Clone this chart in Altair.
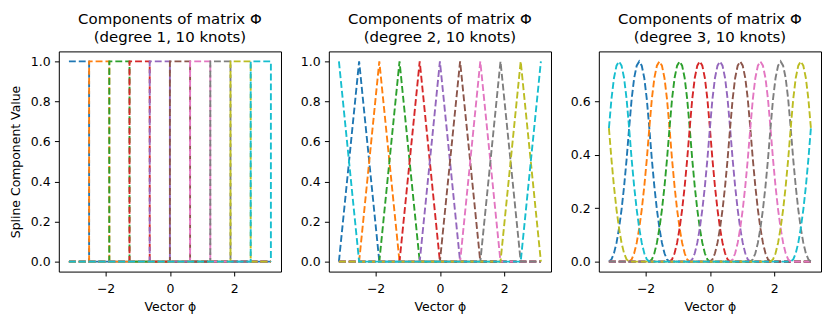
import altair as alt
import pandas as pd

# ---- data ----
KNOTS = [-3.1416, -2.5133, -1.8850, -1.2566, -0.6283, 0.0,
         0.6283, 1.2566, 1.8850, 2.5133, 3.1416]
COMPONENTS = ["0", "1", "2", "3", "4", "5", "6", "7", "8", "9"]
COLORS = ["#1f77b4", "#ff7f0e", "#2ca02c", "#d62728", "#9467bd",
          "#8c564b", "#e377c2", "#7f7f7f", "#bcbd22", "#17becf"]
# shape of one degree-3 component over its three knot intervals (1/8 steps)
SUB_T = [0.0, 0.125, 0.25, 0.375, 0.5, 0.625, 0.75, 0.875]
QUAD_PROFILE = [0.0, 0.008, 0.031, 0.070, 0.125, 0.195, 0.281, 0.383, 0.5,
                0.609, 0.688, 0.734, 0.75, 0.734, 0.688, 0.609, 0.5,
                0.383, 0.281, 0.195, 0.125, 0.070, 0.031, 0.008, 0.0]
TITLES = [["Components of matrix Φ", "(degree 1, 10 knots)"],
          ["Components of matrix Φ", "(degree 2, 10 knots)"],
          ["Components of matrix Φ", "(degree 3, 10 knots)"]]
X_TICKS = [-2, 0, 2]
Y_TICKS_12 = [0.0, 0.2, 0.4, 0.6, 0.8, 1.0]
Y_TICKS_3 = [0.0, 0.2, 0.4, 0.6]

n = len(COMPONENTS)
K0, KN = KNOTS[0], KNOTS[-1]

# degree 1: steps
rows1 = []
for i, c in enumerate(COMPONENTS):
    a, b = KNOTS[i], KNOTS[i + 1]
    if i == 0:
        pts = [(K0, 1), (b, 1), (b, 0), (KN, 0)]
    elif i == n - 1:
        pts = [(K0, 0), (a, 0), (a, 1), (KN, 1), (KN, 0)]
    else:
        pts = [(K0, 0), (a, 0), (a, 1), (b, 1), (b, 0), (KN, 0)]
    for j, (x, y) in enumerate(pts):
        rows1.append({"comp": c, "ord": j, "x": x, "y": y})
df1 = pd.DataFrame(rows1)

# degree 2: hats
rows2 = []
for i, c in enumerate(COMPONENTS):
    if i == n - 1:
        pts = [(K0, 1), (KNOTS[1], 0), (KNOTS[n - 1], 0), (KN, 1)]
    else:
        pts = [(K0, 0), (KNOTS[i], 0), (KNOTS[i + 1], 1), (KNOTS[i + 2], 0), (KN, 0)]
    for j, (x, y) in enumerate(pts):
        rows2.append({"comp": c, "ord": j, "x": x, "y": y})
df2 = pd.DataFrame(rows2)

# degree 3: quadratic bumps on a grid of 1/8 knot intervals (periodic)
grid_x = []
for j in range(n):
    for t in SUB_T:
        grid_x.append(KNOTS[j] + t * (KNOTS[j + 1] - KNOTS[j]))
grid_x.append(KN)
G = len(grid_x) - 1
S = len(SUB_T)
rows3 = []
for i, c in enumerate(COMPONENTS):
    for g, x in enumerate(grid_x):
        k = (g - S * i) % G
        y = QUAD_PROFILE[k] if k < len(QUAD_PROFILE) else 0.0
        rows3.append({"comp": c, "ord": g, "x": x, "y": y})
df3 = pd.DataFrame(rows3)

XDOM = [-3.456, 3.456]
FONT = "DejaVu Sans"


def panel(df, title, ydom, yticks, ytitle):
    yaxis = alt.Axis(values=yticks, format=".1f", minExtent=30, maxExtent=30,
                     titlePadding=6)
    return alt.Chart(df).mark_line(
        strokeDash=[6.9, 3.0], strokeWidth=1.9, clip=True
    ).encode(
        x=alt.X("x:Q", scale=alt.Scale(domain=XDOM, nice=False, zero=False),
                axis=alt.Axis(values=X_TICKS, format="d", title="Vector ϕ",
                              labelPadding=6.5, titlePadding=6)),
        y=alt.Y("y:Q", scale=alt.Scale(domain=ydom, nice=False, zero=False),
                axis=yaxis, title=ytitle),
        color=alt.Color("comp:N", scale=alt.Scale(domain=COMPONENTS, range=COLORS),
                        legend=None),
        order=alt.Order("ord:Q"),
        detail="comp:N",
    ).properties(
        width=223, height=221,
        title=alt.TitleParams(title, fontSize=15, font=FONT, fontWeight="normal",
                              lineHeight=19, offset=6, anchor="middle", color="black"),
    )


p1 = panel(df1, TITLES[0], [-0.05, 1.05], Y_TICKS_12, "Spline Component Value")
p2 = panel(df2, TITLES[1], [-0.05, 1.05], Y_TICKS_12, None)
p3 = panel(df3, TITLES[2], [-0.0375, 0.7875], Y_TICKS_3, None)

chart = alt.hconcat(p1, p2, p3, spacing=16).properties(
    padding={"left": 1, "top": 2, "right": 0, "bottom": 0},
    background="white",
).configure_view(
    stroke="black", strokeWidth=1
).configure_axis(
    grid=False, domain=False, labelFont=FONT, titleFont=FONT,
    labelFontSize=12.5, titleFontSize=12.5, titleFontWeight="normal",
    labelColor="black", titleColor="black", tickColor="black",
    tickSize=4.4, labelPadding=4.4, tickWidth=1
)

chart.save("out.html", embed_options={"renderer": "svg", "actions": False})
